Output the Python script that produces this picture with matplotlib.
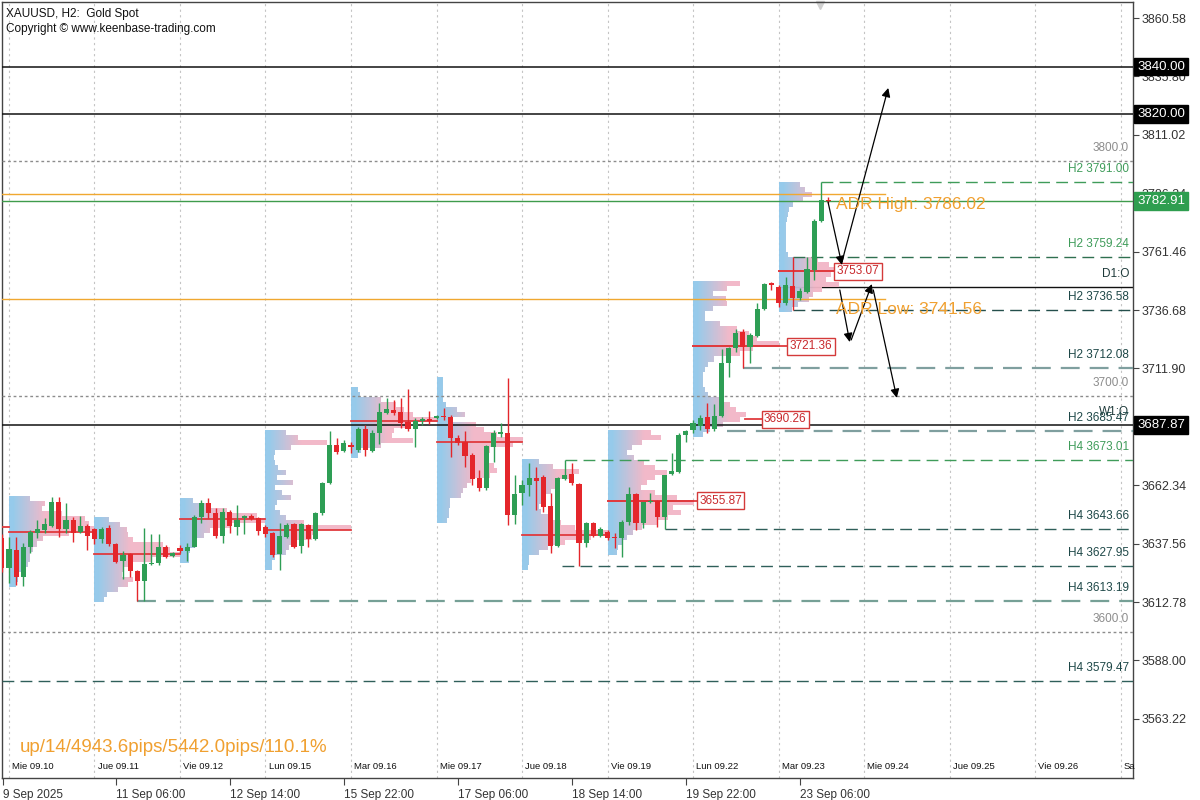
import matplotlib as mpl
mpl.use('Agg')
import matplotlib.pyplot as plt
import matplotlib.transforms as mtrans
import numpy as np

plt.rcParams['font.family'] = ['Liberation Sans', 'DejaVu Sans']

# H2 candles, bar 0 = Wed 10 Sep 00:00, 12 bars per day
first_bar = -1
opens = [3639.8, 3627.4, 3634.9, 3623.6, 3636.3, 3642.2, 3643.4, 3645.2, 3655.1, 3643.8,
         3647.6, 3642.7, 3645.2, 3643.6, 3639.4, 3644.2, 3637.3, 3630.2, 3633.2, 3626.1,
         3621.6, 3629.0, 3629.2, 3636.3, 3632.3, 3635.9, 3634.6, 3636.3, 3649.0, 3655.0,
         3650.7, 3640.8, 3651.1, 3644.8, 3648.3, 3649.3, 3648.3, 3644.8, 3641.9, 3633.0,
         3640.5, 3645.8, 3636.6, 3645.3, 3639.4, 3650.4, 3663.2, 3679.4, 3676.9, 3679.4,
         3677.3, 3686.2, 3677.0, 3684.4, 3693.1, 3694.3, 3693.6, 3689.3, 3686.1, 3689.7,
         3690.3, 3690.7, 3691.7, 3691.4, 3682.2, 3680.8, 3675.2, 3665.3, 3661.0, 3678.7,
         3684.1, 3684.6, 3649.7, 3659.2, 3662.4, 3665.3, 3665.7, 3653.5, 3636.7, 3664.9,
         3667.1, 3662.9, 3638.0, 3646.2, 3640.9, 3642.6, 3640.5, 3639.8, 3646.9, 3658.6,
         3646.5, 3655.1, 3655.8, 3649.0, 3667.1, 3668.1, 3683.6, 3685.8, 3687.5, 3691.2,
         3686.1, 3691.7, 3714.3, 3720.4, 3727.5, 3721.1, 3725.7, 3737.0, 3748.0, 3746.6,
         3739.8, 3747.0, 3741.7, 3744.5, 3753.7, 3774.6, 3783.4]
highs = [3641.5, 3640.5, 3640.5, 3637.7, 3643.4, 3647.6, 3648.3, 3657.5, 3657.2, 3655.0,
         3649.0, 3649.3, 3645.9, 3644.1, 3644.8, 3645.5, 3637.7, 3634.6, 3633.5, 3626.4,
         3644.1, 3641.5, 3641.7, 3637.0, 3634.2, 3637.0, 3637.7, 3649.7, 3656.1, 3656.8,
         3652.6, 3652.6, 3651.8, 3654.0, 3649.7, 3650.1, 3648.7, 3645.3, 3642.7, 3646.2,
         3646.5, 3646.2, 3646.2, 3645.9, 3651.1, 3663.9, 3685.5, 3682.3, 3681.5, 3680.8,
         3687.2, 3687.9, 3685.8, 3697.1, 3699.2, 3698.5, 3699.2, 3703.0, 3690.7, 3691.4,
         3694.0, 3692.1, 3695.0, 3692.1, 3683.6, 3685.5, 3675.9, 3668.8, 3679.4, 3685.8,
         3688.6, 3707.7, 3666.7, 3664.6, 3671.6, 3670.2, 3666.7, 3658.9, 3665.7, 3673.0,
         3671.9, 3663.2, 3646.9, 3646.9, 3644.8, 3643.3, 3641.9, 3647.6, 3661.5, 3659.2,
         3655.4, 3658.9, 3656.1, 3666.7, 3675.9, 3684.4, 3685.8, 3690.0, 3692.1, 3697.1,
         3696.7, 3720.2, 3720.9, 3728.5, 3728.5, 3726.8, 3739.8, 3748.3, 3748.7, 3747.3,
         3750.8, 3759.24, 3745.9, 3759.0, 3775.2, 3791.0, 3784.8]
lows = [3625.7, 3620.7, 3620.0, 3619.7, 3633.5, 3639.8, 3641.9, 3644.8, 3640.5, 3641.9,
        3638.4, 3641.9, 3634.9, 3637.3, 3637.7, 3636.6, 3629.2, 3622.4, 3623.6, 3613.19,
        3613.2, 3628.5, 3628.5, 3631.3, 3632.0, 3633.7, 3630.3, 3636.0, 3646.2, 3648.3,
        3639.8, 3637.7, 3641.9, 3641.2, 3641.7, 3647.6, 3641.2, 3640.5, 3632.0, 3626.4,
        3639.8, 3635.6, 3633.5, 3636.3, 3639.1, 3649.7, 3662.9, 3675.6, 3676.6, 3675.9,
        3676.6, 3674.7, 3676.6, 3679.8, 3692.6, 3692.2, 3686.5, 3685.5, 3678.7, 3687.9,
        3688.3, 3690.4, 3690.0, 3674.2, 3679.4, 3670.2, 3662.4, 3660.0, 3660.3, 3672.3,
        3682.9, 3645.5, 3645.9, 3653.9, 3657.8, 3651.8, 3651.1, 3633.7, 3636.3, 3664.6,
        3662.4, 3627.95, 3636.3, 3640.5, 3640.5, 3639.1, 3635.6, 3632.0, 3645.5, 3643.4,
        3644.1, 3654.7, 3644.5, 3643.66, 3666.7, 3667.7, 3680.8, 3684.4, 3685.8, 3684.4,
        3685.5, 3691.4, 3708.4, 3719.0, 3712.08, 3714.1, 3725.4, 3736.7, 3745.2, 3738.1,
        3738.8, 3736.58, 3741.0, 3743.8, 3749.4, 3774.2, 3782.0]
closes = [3627.1, 3635.2, 3623.6, 3636.3, 3642.7, 3643.6, 3645.9, 3655.1, 3643.8, 3647.6,
          3642.2, 3645.1, 3640.8, 3639.4, 3643.8, 3637.3, 3629.9, 3632.8, 3626.1, 3621.6,
          3628.9, 3629.5, 3636.0, 3632.0, 3633.7, 3634.5, 3636.3, 3649.0, 3655.0, 3650.4,
          3640.8, 3651.1, 3645.1, 3647.6, 3649.3, 3647.9, 3643.1, 3641.5, 3632.8, 3641.0,
          3645.5, 3636.3, 3645.8, 3639.4, 3650.4, 3663.4, 3679.4, 3676.6, 3680.4, 3678.7,
          3686.2, 3677.3, 3684.6, 3693.6, 3694.5, 3692.9, 3688.9, 3686.1, 3689.7, 3690.3,
          3689.6, 3691.7, 3691.2, 3682.2, 3680.4, 3674.7, 3664.8, 3661.0, 3679.0, 3684.6,
          3685.1, 3649.7, 3658.6, 3662.4, 3665.3, 3664.3, 3653.2, 3636.7, 3665.3, 3666.7,
          3663.2, 3638.0, 3646.5, 3640.8, 3643.8, 3639.8, 3639.8, 3646.9, 3658.6, 3646.5,
          3655.1, 3655.5, 3649.0, 3666.7, 3668.5, 3683.7, 3685.5, 3688.6, 3690.7, 3686.1,
          3691.7, 3714.3, 3720.4, 3726.8, 3721.1, 3726.1, 3737.0, 3747.7, 3747.3, 3739.5,
          3747.3, 3741.7, 3744.9, 3753.9, 3774.6, 3783.4, 3782.91]

day_labels = ['Mie 09.10', 'Jue 09.11', 'Vie 09.12', 'Lun 09.15', 'Mar 09.16', 'Mie 09.17',
              'Jue 09.18', 'Vie 09.19', 'Lun 09.22', 'Mar 09.23', 'Mie 09.24', 'Jue 09.25',
              'Vie 09.26', 'Sa']
time_tick_bars = [-0.9, 15, 31, 47, 63, 79, 95, 111]
time_tick_labels = ['9 Sep 2025', '11 Sep 06:00', '12 Sep 14:00', '15 Sep 22:00',
                    '17 Sep 06:00', '18 Sep 14:00', '19 Sep 22:00', '23 Sep 06:00']
price_ticks = [3860.58, 3835.80, 3811.02, 3786.24, 3761.46, 3736.68, 3711.90, 3687.12,
               3662.34, 3637.56, 3612.78, 3588.00, 3563.22]

# daily volume profiles (rows top -> bottom, % of POC volume)
prof_hi = [3657.36, 3648.87, 3656.93, 3685.78, 3703.60, 3707.85, 3673.06, 3685.78, 3748.58, 3791.00]
prof_lo = [3619.17, 3612.81, 3629.36, 3626.39, 3673.90, 3646.33, 3626.39, 3632.75, 3682.81, 3735.85]
prof_vol = [
    [25, 42, 38, 62, 88, 93, 100, 70, 40, 32, 28, 25, 24, 22, 15, 12, 10, 8],
    [18, 30, 38, 40, 45, 80, 88, 100, 68, 40, 35, 33, 45, 40, 28, 15, 12],
    [15, 35, 55, 90, 100, 58, 35, 28, 20, 18, 12, 10, 10],
    [24, 38, 72, 30, 12, 10, 12, 15, 24, 14, 32, 12, 20, 30, 14, 12, 18, 25, 45, 100,
     62, 55, 30, 28, 24, 12, 8, 8],
    [8, 10, 35, 52, 62, 72, 100, 65, 50, 48, 72, 35, 12, 8],
    [7, 7, 7, 7, 7, 10, 23, 33, 19, 45, 55, 70, 100, 88, 62, 55, 60, 66, 70, 62, 40, 35,
     30, 28, 15, 15, 14, 14, 12],
    [20, 36, 66, 55, 43, 38, 34, 24, 22, 20, 22, 31, 45, 62, 100, 80, 50, 30, 20, 8, 8, 7],
    [50, 62, 40, 28, 22, 30, 42, 55, 69, 55, 45, 38, 55, 80, 100, 76, 85, 70, 58, 40, 29,
     22, 18, 12, 10],
    [54, 40, 23, 38, 40, 23, 14, 14, 31, 51, 65, 74, 100, 70, 55, 25, 18, 14, 12, 12, 12,
     14, 18, 35, 43, 50, 62, 55, 35, 20, 12],
    [25, 30, 38, 28, 16, 12, 11, 9, 8, 8, 8, 8, 8, 8, 10, 45, 58, 68, 60, 55, 70, 50, 40,
     35, 22, 15],
]
poc_price = [3644.6, 3642.3, 3633.0, 3647.9, 3643.4, 3689.5, 3680.8, 3641.2, 3655.87, 3721.36, 3753.07]
poc_day = [-1, 0, 1, 2, 3, 4, 5, 6, 7, 8, 9]

# labelled POC boxes: price, line start bar, box bar
poc_box_price = [3655.87, 3690.26, 3721.36, 3753.07]
poc_box_line = [84.0, 103.3, 96.0, 108.0]
poc_box_bar = [96.6, 105.7, 109.3, 115.9]

# dashed swing levels
lvl_price = [3791.00, 3759.24, 3736.58, 3712.08, 3685.47, 3673.01, 3643.66, 3627.95, 3613.19, 3579.47]
lvl_text = ['H2 3791.00', 'H2 3759.24', 'H2 3736.58', 'H2 3712.08', 'H2 3685.47',
            'H4 3673.01', 'H4 3643.66', 'H4 3627.95', 'H4 3613.19', 'H4 3579.47']
lvl_start = [114, 110, 110, 103, 100.8, 78, 92, 77.6, 18, -1]
lvl_color = ['#3f9c5a', '#2f7050', '#244f4c', '#7f9f9f', '#7f9f9f', '#3f9c5a', '#2f5f5a',
             '#2f5f5a', '#76a096', '#2f5f5a']
lvl_tcolor = ['#3f9c5a', '#3f9c5a', '#1e4848', '#1e4848', '#1e4848', '#3f9c5a', '#1e4848',
              '#1e4848', '#1e4848', '#1e4848']
lvl_lw = [1, 1, 1, 1.6, 1.6, 1, 1, 1, 1.6, 1]

round_levels = [3800.0, 3700.0, 3600.0]
black_levels = [3840.00, 3820.00, 3687.87]
d1_open = 3746.4
bid = 3782.91
adr_high = 3786.02
adr_low = 3741.56

# scenario arrows (bar, price)
arrows = [((114.95, 3782.5), (116.9, 3755.8)),
          ((116.9, 3757.1), (123.4, 3830.9)),
          ((116.6, 3745.2), (118.0, 3723.1)),
          ((118.2, 3724.0), (121.1, 3747.7)),
          ((121.3, 3745.2), (124.6, 3699.4))]

fig = plt.figure(figsize=(12, 8), dpi=100)
ax = fig.add_axes([2 / 1200, 22 / 800, 1131 / 1200, 776 / 800])

blue = np.array([145, 200, 234]) / 255
pink = np.array([242, 182, 198]) / 255

# profiles
for d in range(len(prof_vol)):
    vols = prof_vol[d]
    ncol = 240
    xs = (np.arange(ncol) + 0.5) / ncol * 12
    t = np.clip((xs - 0.6) / 4.5, 0, 1)
    col = blue[None, :] * (1 - t)[:, None] + pink[None, :] * t[:, None]
    img = np.zeros((len(vols), ncol, 4))
    for i, v in enumerate(vols):
        m = xs < v / 100 * 12
        img[i, m, :3] = col[m]
        img[i, m, 3] = 0.95
    ax.imshow(img, extent=(12 * d, 12 * d + 12, prof_lo[d], prof_hi[d]), aspect='auto',
              interpolation='nearest', origin='upper', zorder=2)

# day separators
for d in range(len(day_labels)):
    ax.axvline(12 * d, color='#c4c4c4', ls=(0, (2, 3)), lw=0.8, zorder=1)
    ax.text(12 * d + 0.45, 0.0095, day_labels[d], transform=ax.get_xaxis_transform(),
            fontsize=6.8, va='bottom', ha='left', color='#111111')

for p in round_levels:
    ax.axhline(p, color='#8c8c8c', ls=(0, (2, 2)), lw=1, zorder=3)
for p in black_levels:
    ax.axhline(p, color='#111111', lw=1.1, zorder=3)
ax.axhline(bid, color='#3f9c4c', lw=1, zorder=3)
ax.plot([-1, 123.0], [adr_high, adr_high], color='#f0a830', lw=1, zorder=3)
ax.plot([-1, 123.0], [adr_low, adr_low], color='#f0a830', lw=1, zorder=3)
ax.plot([108, 160], [d1_open, d1_open], color='#111111', lw=1, zorder=1.5)

for p, s, c, w in zip(lvl_price, lvl_start, lvl_color, lvl_lw):
    ax.plot([s, 160], [p, p], color=c, lw=w, ls=(0, (8.5, 4.5)), zorder=3)

# POC lines and boxes
for d, p in zip(poc_day, poc_price):
    ax.plot([12 * d, 12 * d + 12], [p, p], color='#e03a3e', lw=1.3, zorder=3.5)
for p, s, b in zip(poc_box_price, poc_box_line, poc_box_bar):
    ax.plot([s, b], [p, p], color='#e03a3e', lw=1.3, zorder=3.5)
    ax.text(b + 0.25, p, '%.2f' % p, fontsize=8.5, color='#c8282c', va='center', ha='left',
            zorder=6, bbox=dict(boxstyle='square,pad=0.2', fc='white', ec='#d43a3a', lw=1))

# candles
bars = np.arange(first_bar, first_bar + len(opens))
o = np.array(opens)
h = np.array(highs)
lo = np.array(lows)
c = np.array(closes)
colors = np.where(c >= o, '#2e9e55', '#e4262b')
ax.vlines(bars, lo, h, colors=colors, lw=1, zorder=4)
body = np.maximum(np.abs(c - o), 0.35)
ax.bar(bars, body, bottom=np.minimum(o, c), width=0.72, color=colors, zorder=5, lw=0)

# arrows
for a, b in arrows:
    ax.annotate('', xy=b, xytext=a,
                arrowprops=dict(arrowstyle='-|>', color='black', lw=0.9, mutation_scale=13,
                                shrinkA=0, shrinkB=0), zorder=6)

# ADR texts
ax.annotate('ADR High: %.2f' % adr_high, (116.1, adr_high), xytext=(0, -8), textcoords='offset points',
            fontsize=12.5, color='#f0a030', va='center', ha='left', zorder=6)
ax.annotate('ADR Low: %.2f' % adr_low, (116.1, adr_low), xytext=(0, -7.6), textcoords='offset points',
            fontsize=12.5, color='#f0a030', va='center', ha='left', zorder=6)

# right side labels
bt = ax.get_yaxis_transform()
up = mtrans.offset_copy(bt, fig=fig, x=0, y=13, units='dots')
for p, s, tc in zip(lvl_price, lvl_text, lvl_tcolor):
    ax.text(0.9965, p, s, transform=up, fontsize=8.5, color=tc, ha='right', va='center', zorder=6)
for p in round_levels:
    ax.text(0.9965, p, '%.1f' % p, transform=up, fontsize=8.5, color='#8c8c8c', ha='right',
            va='center', zorder=6)
ax.text(0.9965, d1_open, 'D1:O', transform=up, fontsize=8.5, color='#1e3a3a', ha='right', va='center')
ax.text(0.9965, black_levels[2], 'W1:O', transform=up, fontsize=8.5, color='#1e3a3a', ha='right',
        va='center')

for p in black_levels:
    ax.text(1.0035, p, '%.2f' % p, transform=bt, fontsize=9.5, color='white', ha='left', va='center',
            clip_on=False, zorder=10,
            bbox=dict(boxstyle='square,pad=0.22', fc='black', ec='black'))
ax.text(1.0035, bid, '%.2f' % bid, transform=bt, fontsize=9.5, color='white', ha='left', va='center',
        clip_on=False, zorder=10, bbox=dict(boxstyle='square,pad=0.22', fc='#2e9e4f', ec='#2e9e4f'))

# header and footer
ax.text(0.0035, 0.985, 'XAUUSD, H2:  Gold Spot', transform=ax.transAxes, fontsize=8.5,
        va='center', ha='left', color='#111111')
ax.text(0.0035, 0.9655, 'Copyright \u00a9 www.keenbase-trading.com', transform=ax.transAxes,
        fontsize=8.5, va='center', ha='left', color='#111111')
ax.text(0.0159, 0.0387, 'up/14/4943.6pips/5442.0pips/110.1%', transform=ax.transAxes,
        fontsize=13.5, va='center', ha='left', color='#f0a030')
ax.plot([0.7233], [0.9955], marker='v', color='#d0d0d0', ms=6, transform=ax.transAxes, clip_on=False)

ax.set_xlim(-0.98, 157.75)
ax.set_ylim(3538.14, 3867.37)
ax.yaxis.tick_right()
ax.set_yticks(price_ticks)
ax.set_yticklabels(['%.2f' % p for p in price_ticks])
ax.set_xticks(time_tick_bars)
ax.set_xticklabels(time_tick_labels)
for lab in ax.get_xticklabels():
    lab.set_ha('left')
ax.tick_params(axis='y', direction='out', length=4, width=0.8, colors='#444444', labelsize=9,
               pad=2, labelcolor='#333333')
ax.tick_params(axis='x', direction='out', length=5, width=0.8, colors='#444444', labelsize=8.5,
               pad=3, labelcolor='#333333')
for sp in ax.spines.values():
    sp.set_color('#444444')
    sp.set_linewidth(1)

fig.savefig('out.png', dpi=100)
